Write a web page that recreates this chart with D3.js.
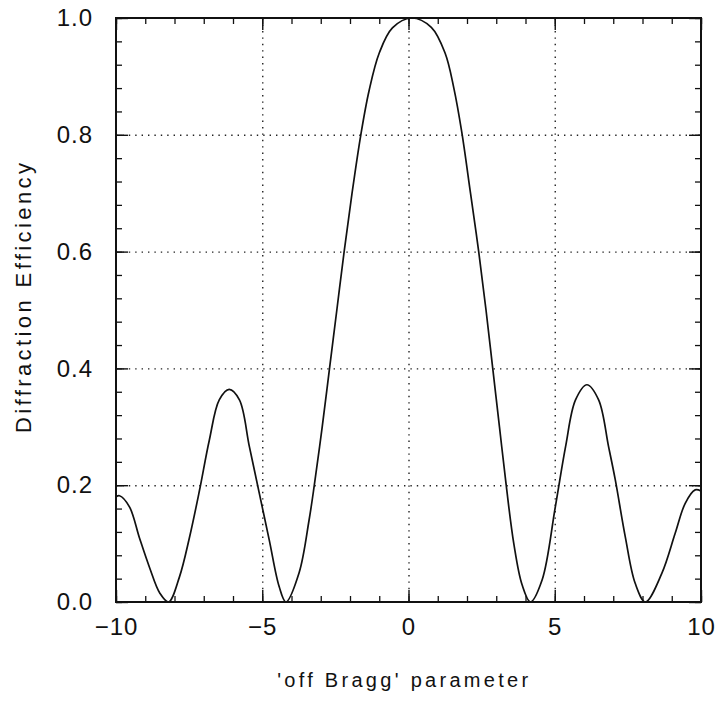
<!DOCTYPE html>
<html>
<head>
<meta charset="utf-8">
<script src="https://cdn.jsdelivr.net/npm/d3@7"></script>
<style>
  body { margin: 0; background: #fff; }
  svg { display: block; }
  text { font-family: "Liberation Sans", Arial, sans-serif; fill: #111; }
</style>
</head>
<body>
<div class="plot"></div>
<script>
// values
const offBragg = [-10, -9.88, -9.54, -9.2, -8.86, -8.5, -8.2, -7.83, -7.49, -7.15, -6.81, -6.47, -6.13,
  -5.78, -5.44, -5.1, -4.76, -4.42, -4.19, -3.74, -3.4, -3.22, -2.95, -2.7, -2.45, -2.2, -1.93, -1.63,
  -1.35, -1.0, -0.55, 0.1, 0.78, 1.25, 1.55, 1.82, 2.12, 2.4, 2.65, 2.88, 3.11, 3.34, 3.6, 3.88, 4.17,
  4.57, 5.02, 5.37, 5.71, 6.1, 6.5, 6.84, 7.07, 7.41, 7.75, 8.1, 8.66, 9.12, 9.46, 9.8, 10];
const efficiency = [0.18, 0.182, 0.163, 0.11, 0.06, 0.015, 0, 0.043, 0.11, 0.19, 0.277, 0.346, 0.364,
  0.346, 0.266, 0.186, 0.106, 0.026, 0, 0.05, 0.14, 0.2, 0.3, 0.4, 0.5, 0.6, 0.7, 0.8,
  0.875, 0.94, 0.983, 1.0, 0.984, 0.94, 0.88, 0.805, 0.7, 0.6, 0.5, 0.4, 0.3, 0.2, 0.1, 0.03, 0,
  0.038, 0.163, 0.266, 0.346, 0.372, 0.346, 0.266, 0.209, 0.112, 0.032, 0, 0.049, 0.118, 0.169, 0.192, 0.19];
const xMajor = [-10, -5, 0, 5, 10];
const xMinor = d3.range(-10, 10.5, 1);
const yMajor = [0, 0.2, 0.4, 0.6, 0.8, 1.0];
const yMinor = d3.range(0, 1.001, 0.04);
const xTitle = "'off Bragg' parameter";
const yTitle = "Diffraction Efficiency";

const margin = {top: 18, right: 18, bottom: 100, left: 116};
const W = 719, H = 702;
const w = W - margin.left - margin.right;
const h = H - margin.top - margin.bottom;

const root = d3.select(".plot")
  .append("svg")
    .attr("width", W)
    .attr("height", H);

root.append("defs").append("clipPath")
    .attr("id", "plot-clip")
  .append("rect")
    .attr("x", -1)
    .attr("y", -1)
    .attr("width", w + 2)
    .attr("height", h + 1);

const svg = root.append("g")
    .attr("transform", "translate(" + margin.left + "," + margin.top + ")");

const x = d3.scaleLinear().domain([-10, 10]).range([0, w]);
const y = d3.scaleLinear().domain([0, 1]).range([h, 0]);

// dotted grid at inner major ticks
const gridX = svg.append("g")
  .attr("transform", "translate(0," + h + ")")
  .call(d3.axisBottom(x).tickValues([-5, 0, 5]).tickSize(-h).tickFormat(""));
const gridY = svg.append("g")
  .call(d3.axisLeft(y).tickValues([0.2, 0.4, 0.6, 0.8]).tickSize(-w).tickFormat(""));
[gridX, gridY].forEach(g => {
  g.select(".domain").remove();
  g.selectAll("line")
    .attr("stroke", "#222")
    .attr("stroke-width", 1.4)
    .attr("stroke-dasharray", "1.4,5");
});

// minor ticks on every side, pointing in
const minorAxes = [
  [d3.axisBottom(x).tickValues(xMinor), "translate(0," + h + ")"],
  [d3.axisTop(x).tickValues(xMinor), "translate(0,0)"],
  [d3.axisLeft(y).tickValues(yMinor), "translate(0,0)"],
  [d3.axisRight(y).tickValues(yMinor), "translate(" + w + ",0)"]
];
minorAxes.forEach(([ax, tr]) => {
  const g = svg.append("g").attr("transform", tr)
    .call(ax.tickSize(-6).tickFormat(""));
  g.select(".domain").remove();
  g.selectAll("line").attr("stroke", "#111").attr("stroke-width", 1.3);
});

// major ticks + labels
const xAxis = svg.append("g")
  .attr("transform", "translate(0," + h + ")")
  .call(d3.axisBottom(x).tickValues(xMajor).tickSize(-12).tickPadding(16).tickFormat(d3.format("d")));
const yAxis = svg.append("g")
  .call(d3.axisLeft(y).tickValues(yMajor).tickSize(-12).tickPadding(23).tickFormat(d3.format(".1f")));
const xTop = svg.append("g")
  .call(d3.axisTop(x).tickValues(xMajor).tickSize(-12).tickFormat(""));
const yRight = svg.append("g")
  .attr("transform", "translate(" + w + ",0)")
  .call(d3.axisRight(y).tickValues(yMajor).tickSize(-12).tickFormat(""));
[xAxis, yAxis, xTop, yRight].forEach(g => {
  g.select(".domain").remove();
  g.selectAll("line").attr("stroke", "#111").attr("stroke-width", 1.4);
  g.selectAll("text")
    .style("font-size", "24px")
    .style("font-family", "'Liberation Sans', Arial, sans-serif")
    .attr("fill", "#111")
    .attr("letter-spacing", "1px");
});

// frame
svg.append("rect")
  .attr("width", w)
  .attr("height", h)
  .attr("fill", "none")
  .attr("stroke", "#111")
  .attr("stroke-width", 2);

// curve
const pts = offBragg.map((v, i) => [v, efficiency[i]]);
svg.append("path")
  .datum(pts)
  .attr("clip-path", "url(#plot-clip)")
  .attr("fill", "none")
  .attr("stroke", "#111")
  .attr("stroke-width", 1.7)
  .attr("d", d3.line()
    .x(d => x(d[0]))
    .y(d => y(d[1]))
    .curve(d3.curveCatmullRom.alpha(0.5)));

// axis titles
svg.append("text")
  .attr("x", x(-0.2))
  .attr("y", h + 85)
  .attr("text-anchor", "middle")
  .attr("textLength", 251)
  .attr("lengthAdjust", "spacing")
  .style("font-size", "20px")
  .text(xTitle);

svg.append("text")
  .attr("transform", "translate(" + (31 - margin.left) + "," + (298 - margin.top) + ") rotate(-90)")
  .attr("text-anchor", "middle")
  .attr("textLength", 270)
  .attr("lengthAdjust", "spacing")
  .style("font-size", "22px")
  .text(yTitle);
</script>
</body>
</html>
